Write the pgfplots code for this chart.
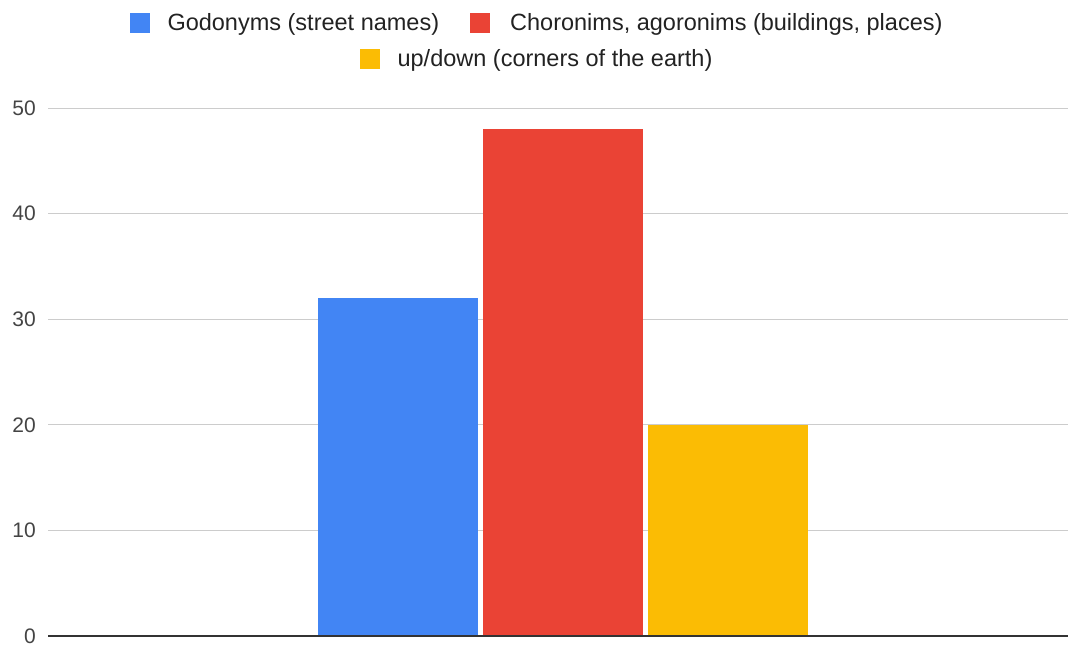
\documentclass[border=0pt]{standalone}
\usepackage{fontspec}
\setmainfont{Liberation Sans}
\usepackage{pgfplots}
\pgfplotsset{compat=1.18}

\definecolor{gblue}{HTML}{4285F4}
\definecolor{gred}{HTML}{EA4335}
\definecolor{gyellow}{HTML}{FBBC04}
\definecolor{gridgrey}{HTML}{CCCCCC}
\definecolor{basegrey}{HTML}{333333}
\definecolor{labelgrey}{HTML}{444444}
\definecolor{textdark}{HTML}{222222}

\newcommand{\legsq}[1]{{\color{#1}\rule[-3pt]{20pt}{20pt}}}

\begin{document}
\begin{tikzpicture}
  \useasboundingbox (0,0) rectangle (1068pt,-646pt);

  % legend, two centred rows
  \node[text=textdark, inner sep=0pt, anchor=center] at (536pt,-24pt)
    {\fontsize{23.5}{28}\selectfont\legsq{gblue}\hspace{18pt}Godonyms (street names)\hspace{31pt}\legsq{gred}\hspace{20pt}Choronims, agoronims (buildings, places)};
  \node[text=textdark, inner sep=0pt, anchor=center] at (536pt,-60pt)
    {\fontsize{23.5}{28}\selectfont\legsq{gyellow}\hspace{18pt}up/down (corners of the earth)};

  \begin{axis}[
    at={(48pt,-636pt)}, anchor=south west,
    scale only axis,
    width=1020pt, height=528pt,
    xmin=0, xmax=1020,
    ymin=0, ymax=50,
    ytick={0,10,...,50},
    xtick=\empty,
    major tick length=0pt,
    axis line style={draw=none},
    ymajorgrids,
    grid style={gridgrey, line width=1pt},
    /pgf/number format/assume math mode=true,
    yticklabel style={font=\fontsize{21}{25}\selectfont, text=labelgrey,
                      inner sep=0pt, anchor=east, xshift=-12pt},
    clip=false,
  ]
    \addplot[ybar, bar width=160, bar shift=0pt, fill=gblue, draw=none]
      coordinates {(350,32)};
    \addplot[ybar, bar width=160, bar shift=0pt, fill=gred, draw=none]
      coordinates {(515,48)};
    \addplot[ybar, bar width=160, bar shift=0pt, fill=gyellow, draw=none]
      coordinates {(680,20)};
    \draw[basegrey, line width=2pt] (axis cs:0,0) -- (axis cs:1020,0);
  \end{axis}
\end{tikzpicture}
\end{document}
